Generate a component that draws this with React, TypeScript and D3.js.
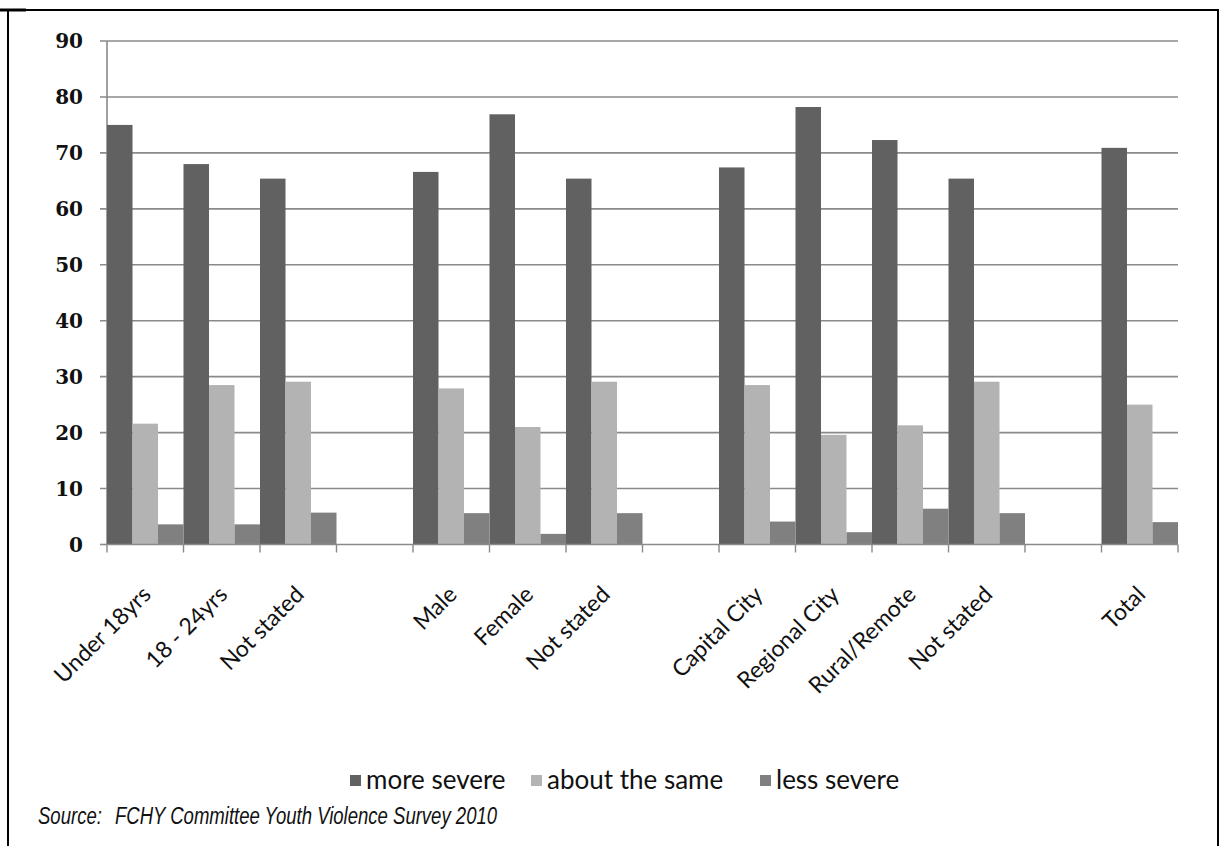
import React from "react";
import * as d3 from "d3";

const categories = ["Under 18yrs", "18 - 24yrs", "Not stated", "", "Male", "Female", "Not stated", "", "Capital City", "Regional City", "Rural/Remote", "Not stated", "", "Total"];
const moreSevere = [75, 68, 65.4, null, 66.6, 76.9, 65.4, null, 67.4, 78.2, 72.3, 65.4, null, 70.9];
const aboutTheSame = [21.6, 28.5, 29.1, null, 27.9, 21.0, 29.1, null, 28.5, 19.6, 21.3, 29.1, null, 25.0];
const lessSevere = [3.6, 3.6, 5.7, null, 5.6, 1.9, 5.6, null, 4.1, 2.2, 6.4, 5.6, null, 4.0];
const seriesNames = ["more severe", "about the same", "less severe"];
const seriesColors = ["#616161", "#b3b3b3", "#808080"];
const yTicks = [0, 10, 20, 30, 40, 50, 60, 70, 80, 90];
const sourceLabel = "Source:";
const sourceText = "FCHY Committee Youth Violence Survey 2010";

const W = 1226, H = 846;
const plotLeft = 107, plotRight = 1178, plotTop = 41, plotBottom = 544.5;

export default function App() {
  const idx = categories.map((_, i) => i);
  const x = d3.scaleBand<number>().domain(idx).range([plotLeft, plotRight]).paddingInner(0).paddingOuter(0);
  const xs = d3.scaleBand<number>().domain([0, 1, 2]).range([0, x.bandwidth()]).padding(0);
  const y = d3.scaleLinear().domain([0, 90]).range([plotBottom, plotTop]);
  const series = [moreSevere, aboutTheSame, lessSevere];
  const gridColor = "#8a8a8a";
  const labelFont = "Lato, 'Open Sans', sans-serif";
  const legendItems = [
    { sx: 350, tx: 366 },
    { sx: 531, tx: 547 },
    { sx: 760, tx: 776 },
  ];
  const srcFont = "'Liberation Sans', Arial, sans-serif";

  return (
    <svg width={W} height={H} style={{ position: "absolute", left: 0, top: 0, background: "#fff" }}>
      <rect x={0} y={0} width={W} height={H} fill="#fff" />
      {/* frame */}
      <line x1={8} x2={8} y1={9} y2={H} stroke="#000" strokeWidth={2} />
      <line x1={7} x2={1219} y1={10} y2={10} stroke="#000" strokeWidth={2} />
      <line x1={1218} x2={1218} y1={9} y2={H} stroke="#000" strokeWidth={2} />
      <line x1={0} x2={26} y1={10} y2={10} stroke="#000" strokeWidth={3} />

      {/* gridlines + y ticks */}
      {yTicks.map((t) => (
        <g key={t}>
          <line x1={plotLeft - 7} x2={t === 0 ? plotLeft : plotRight} y1={y(t)} y2={y(t)} stroke={gridColor} strokeWidth={1.6} />
          <text x={83} y={y(t)} dy="0.36em" textAnchor="end" fontFamily="'DejaVu Serif', serif" fontWeight="bold" fontSize={20} fill="#111">{t}</text>
        </g>
      ))}
      <line x1={plotLeft} x2={plotLeft} y1={plotTop} y2={plotBottom} stroke={gridColor} strokeWidth={1.6} />

      {/* bars */}
      {series.map((vals, s) => (
        <g key={s}>
          {vals.map((v, i) =>
            v == null ? null : (
              <rect key={i} x={(x(i) as number) + (xs(s) as number)} y={y(v)} width={xs.bandwidth()} height={y(0) - y(v)} fill={seriesColors[s]} />
            )
          )}
        </g>
      ))}

      {/* x axis */}
      <line x1={plotLeft} x2={plotRight} y1={plotBottom} y2={plotBottom} stroke={gridColor} strokeWidth={1.6} />
      {d3.range(categories.length + 1).map((i) => {
        const px = i < categories.length ? (x(i) as number) : plotRight;
        return <line key={i} x1={px} x2={px} y1={plotBottom} y2={plotBottom + 8} stroke={gridColor} strokeWidth={1.4} />;
      })}
      {categories.map((c, i) =>
        c ? (
          <text key={i} transform={`translate(${(x(i) as number) + x.bandwidth() / 2 + 7},${596}) rotate(-45)`} textAnchor="end" fontFamily={labelFont} fontSize={23} fill="#111">{c}</text>
        ) : null
      )}

      {/* legend */}
      {seriesNames.map((n, s) => (
        <g key={n}>
          <rect x={legendItems[s].sx} y={775} width={11} height={11} fill={seriesColors[s]} />
          <text x={legendItems[s].tx} y={789} fontFamily={labelFont} fontSize={26} fill="#111">{n}</text>
        </g>
      ))}

      {/* source */}
      <g transform="translate(38,824) scale(0.806,1)">
        <text x={0} y={0} fontFamily={srcFont} fontStyle="italic" fontSize={23} fill="#111">{sourceLabel}</text>
        <text x={(115 - 38) / 0.806} y={0} fontFamily={srcFont} fontStyle="italic" fontSize={23} fill="#111">{sourceText}</text>
      </g>
    </svg>
  );
}
